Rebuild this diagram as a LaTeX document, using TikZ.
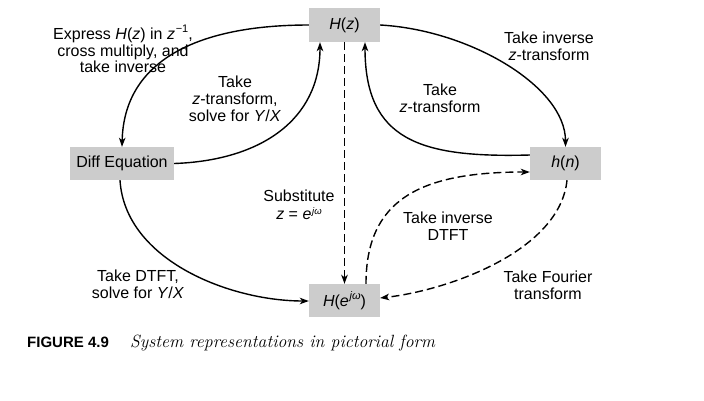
\documentclass[tikz,border=0pt]{standalone}
\usepackage{fontspec}
\setmainfont{Liberation Sans}
\usetikzlibrary{arrows.meta}
\newcommand{\vv}[1]{\textit{#1}}
\newcommand{\supx}[1]{\kern0.8pt\raisebox{0.42em}{\fontsize{11}{11}\selectfont #1}}
\newcommand{\supy}[1]{\kern0.8pt\raisebox{0.34em}{\fontsize{9.5}{9.5}\selectfont #1}}
\tikzset{
  box/.style={fill=black!20, minimum width=71pt, minimum height=33pt, inner sep=0pt,
    font=\fontsize{16}{17}\selectfont},
  lbl/.style={align=center, inner sep=0pt, font=\fontsize{16}{16.8}\selectfont},
  conn/.style={line width=1.4pt, -{Stealth[length=9pt,width=6.5pt,inset=2.5pt]}},
  dconn/.style={conn, dash pattern=on 8pt off 4pt}
}
\begin{document}
\begin{tikzpicture}[x=1pt,y=-1pt]
\useasboundingbox (0,0) rectangle (704,400);
\node[box, minimum height=34pt] (hz) at (344.5,25) {\vv{H}(\vv{z})};
\node[box, minimum width=104pt] (diff) at (122,163.5) {Diff Equation};
\node[box] (hn) at (565.5,163.5) {\vv{h}(\vv{n})};
\node[box] (he) at (344.5,300.5) {\vv{H}(\vv{e}\supx{\itshape jω})};

\draw[conn] (hz.west) .. controls +(-110,0) and +(2,-87) .. (diff.north);
\draw[conn] (diff.east) .. controls +(86,-3) and +(0,78) .. ([xshift=-24.5pt]hz.south);
\draw[conn] (hz.east) .. controls +(90,5) and +(0,-60) .. (hn.north);
\draw[conn] ([yshift=8.5pt]hn.west) .. controls +(-110,3) and +(0,98) .. ([xshift=20.5pt]hz.south);
\draw[dconn] (hz.south) -- (he.north);
\draw[conn] ([xshift=-2pt]diff.south) .. controls +(5,80) and +(-79,0) .. ([yshift=-0.5pt]he.west);
\draw[dconn] ([xshift=21.5pt]he.north) .. controls +(0,-84) and +(-110,0) .. ([yshift=-8.5pt]hn.west);
\draw[dconn] ([xshift=1.5pt]hn.south) .. controls +(-7,70) and +(70,-8) .. ([yshift=2.5pt]he.east);

\node[lbl] (l1) at (123,49) {Express \vv{H}(\vv{z}) in \vv{z}\supx{−1},\\cross multiply, and\\take inverse};
\node[lbl] (l2) at (235,99) {Take\\\vv{z}-transform,\\solve for \vv{Y}/\vv{X}};
\node[lbl] (l3) at (549,46) {Take inverse\\\vv{z}-transform};
\node[lbl] (l4) at (440,98) {Take\\\vv{z}-transform};
\node[lbl, font=\fontsize{16}{17.5}\selectfont] (l5) at (299,205) {Substitute\\\vv{z} = \vv{e}\supy{\itshape jω}};
\node[lbl] (l6) at (448,226) {Take inverse\\DTFT};
\node[lbl] (l7) at (138,284) {Take DTFT,\\solve for \vv{Y}/\vv{X}};
\node[lbl] (l8) at (548,285) {Take Fourier\\transform};

\node[anchor=base west, inner sep=0pt, font=\fontsize{15}{16}\selectfont\bfseries] (cap1) at (27,347) {FIGURE 4.9};
\node[anchor=base west, inner sep=0pt, font=\fontsize{17.7}{19}\selectfont\fontfamily{lmr}\itshape] (cap2) at (130,347) {System representations in pictorial form};
\end{tikzpicture}
\end{document}
